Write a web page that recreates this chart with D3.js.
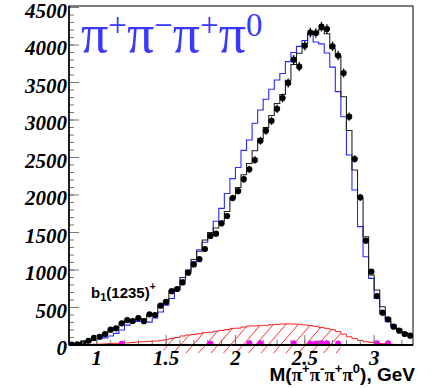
<!DOCTYPE html>
<html>
<head>
<meta charset="utf-8">
<script src="https://cdn.jsdelivr.net/npm/d3@7"></script>
<style>
  html, body { margin: 0; padding: 0; background: #fff; }
  svg { display: block; }
</style>
</head>
<body>
<svg id="chart" width="436" height="388"></svg>
<script>
// Binning of the 4-pion invariant mass spectrum (GeV)
const massMin = 0.80;
const binWidth = 0.04;

// Measured events per bin
const dataCounts = [5, 8, 25, 57, 95, 110, 147, 205, 222, 289, 333, 320, 360, 318, 409, 400,
  525, 575, 718, 747, 834, 965, 1075, 1145, 1280, 1455, 1485, 1622, 1720, 1960, 2053, 2211,
  2342, 2467, 2724, 2858, 2989, 3149, 3293, 3494, 3805, 3711, 3989, 4166, 4160, 4244, 4213,
  3983, 3860, 3627, 3044, 2480, 1969, 1391, 978, 653, 431, 342, 244, 191, 147, 124];

// Full simulation (black histogram)
const simTotal = [5, 10, 30, 55, 90, 115, 150, 195, 230, 280, 325, 340, 345, 345, 400, 420,
  533, 590, 720, 760, 900, 1000, 1140, 1250, 1400, 1500, 1560, 1650, 1780, 1960, 2100, 2270,
  2420, 2590, 2750, 2900, 3060, 3220, 3340, 3530, 3740, 3890, 4020, 4150, 4150, 4205, 4150,
  3950, 3850, 3310, 2860, 2333, 1956, 1444, 933, 733, 511, 356, 267, 209, 164, 133];

// Alternative simulation (blue histogram)
const simAlt = [0, 5, 20, 45, 65, 85, 95, 120, 155, 200, 265, 315, 315, 315, 305, 360,
  440, 530, 620, 733, 867, 978, 1111, 1270, 1370, 1500, 1650, 1822, 2020, 2218, 2367, 2595,
  2733, 2956, 3133, 3276, 3411, 3533, 3620, 3778, 3900, 3982, 4060, 4140, 4040, 4015, 3893,
  3705, 3378, 3044, 2533, 2067, 1578, 1177, 889, 622, 422, 311, 244, 200, 156, 124];

// Background contribution (red hatched)
const background = [3, 5, 6, 8, 10, 12, 15, 20, 22, 25, 28, 33, 40, 44, 48, 52,
  58, 70, 85, 100, 120, 133, 140, 150, 164, 170, 185, 195, 205, 222, 225, 240,
  253, 255, 258, 262, 271, 275, 280, 282, 280, 275, 268, 258, 248, 235, 222,
  205, 180, 145, 110, 85, 60, 44, 35, 25, 18, 12, 9, 7, 5, 4];
// Mass window over which the background band is hatched
const hatchFrom = 1.48, hatchTo = 2.76, hatchLow = -110;

// Side-band subtracted residual (magenta points, empty bins are skipped)
const residual = [0, 0, 0, 0, 0, 0, 0, 0, 0, 18, 0, 0, 0, 0, 0, 0,
  0, 0, 0, 0, 0, 0, 0, 0, 0, 18, 0, 0, 0, 0, 0, 0,
  22, 0, 22, 0, 0, 0, 0, 0, 22, 0, 0, 20, 20, 22, 22,
  0, 20, 0, 0, 0, 0, 0, 0, 22, 0, 22, 0, 0, 0, 0];

// Axis ticks
const xMajorTicks = [1, 1.5, 2, 2.5, 3];
const xTickLabels = ["1", "1.5", "2", "2.5", "3"];
const yMajorTicks = [0, 500, 1000, 1500, 2000, 2500, 3000, 3500, 4000, 4500];
const yTickLabels = ["0", "500", "1000", "1500", "2000", "2500", "3000", "3500", "4000", "4500"];

const svg = d3.select("#chart");
const nBins = dataCounts.length;
const massMax = massMin + nBins * binWidth;

const x = d3.scaleLinear().domain([massMin, massMax]).range([69, 413]);
const y = d3.scaleLinear().domain([0, 4520]).range([345, 6]);

const edge = i => massMin + i * binWidth;
const centre = i => massMin + (i + 0.5) * binWidth;

// Outline of a histogram as a step line
function stepPoints(values) {
  const pts = values.map((v, i) => [edge(i), v]);
  pts.push([edge(values.length), values[values.length - 1]]);
  return pts;
}
const stepLine = d3.line().x(d => x(d[0])).y(d => y(d[1])).curve(d3.curveStepAfter);

const defs = svg.append("defs");
defs.append("clipPath").attr("id", "frameClip")
  .append("rect").attr("x", 69).attr("y", 6).attr("width", 344).attr("height", 339);

// Hatched background band: area between the band floor and the background outline
const hatchBins = d3.range(nBins).filter(i => edge(i) >= hatchFrom - 1e-9 && edge(i + 1) <= hatchTo + 1e-9);
const bandTop = [];
hatchBins.forEach(i => { bandTop.push([edge(i), background[i]]); bandTop.push([edge(i + 1), background[i]]); });
const bandArea = d3.area().x(d => x(d[0])).y0(y(hatchLow)).y1(d => y(d[1]));
defs.append("clipPath").attr("id", "bandClip")
  .append("path").datum(bandTop).attr("d", bandArea);

const hatchStep = 12.5, hatchSlope = 1.15;
const yFloor = y(hatchLow), yCeil = y(d3.max(background)) - 5;
const hatchStarts = d3.range(x(hatchFrom) - 40, x(hatchTo) + 5, hatchStep);
svg.append("g").attr("clip-path", "url(#bandClip)")
  .selectAll("line").data(hatchStarts).join("line")
  .attr("x1", d => d).attr("y1", yFloor)
  .attr("x2", d => d + (yFloor - yCeil) / hatchSlope).attr("y2", yCeil)
  .attr("stroke", "#ff3030").attr("stroke-width", 1);

const plot = svg.append("g").attr("clip-path", "url(#frameClip)");

// Background outline
plot.append("path").datum(stepPoints(background))
  .attr("d", stepLine).attr("fill", "none")
  .attr("stroke", "#ff2020").attr("stroke-width", 1);

// Simulations
plot.append("path").datum(stepPoints(simAlt))
  .attr("d", stepLine).attr("fill", "none")
  .attr("stroke", "#2828ff").attr("stroke-width", 1.1);
plot.append("path").datum(stepPoints(simTotal))
  .attr("d", stepLine).attr("fill", "none")
  .attr("stroke", "#222").attr("stroke-width", 1.1);

// Data with statistical errors
const pts = plot.append("g");
pts.selectAll("line").data(dataCounts).join("line")
  .attr("x1", (d, i) => x(centre(i))).attr("x2", (d, i) => x(centre(i)))
  .attr("y1", d => y(d + Math.sqrt(d))).attr("y2", d => y(Math.max(0, d - Math.sqrt(d))))
  .attr("stroke", "#000").attr("stroke-width", 1.2);
pts.selectAll("circle").data(dataCounts).join("circle")
  .attr("cx", (d, i) => x(centre(i))).attr("cy", d => y(d))
  .attr("r", 3.1).attr("fill", "#000");

// Residual points
plot.append("g").selectAll("circle")
  .data(residual.map((v, i) => ({ v, i })).filter(d => d.v > 0))
  .join("circle")
  .attr("cx", d => x(centre(d.i))).attr("cy", d => y(d.v))
  .attr("r", 3).attr("fill", "#ff00ff");

// Axes
const tickColor = "#777";
const axes = svg.append("g");
const xMinor = d3.range(Math.ceil(massMin * 10), Math.floor(massMax * 10) + 1).map(k => k / 10);
axes.selectAll(".xminor").data(xMinor).join("line")
  .attr("x1", d => x(d)).attr("x2", d => x(d))
  .attr("y1", 345).attr("y2", 340).attr("stroke", tickColor);
axes.selectAll(".xmajor").data(xMajorTicks).join("line")
  .attr("x1", d => x(d)).attr("x2", d => x(d))
  .attr("y1", 345).attr("y2", 335).attr("stroke", tickColor);
const yMinor = d3.range(0, 4501, 100);
axes.selectAll(".yminor").data(yMinor).join("line")
  .attr("x1", 69).attr("x2", 74)
  .attr("y1", d => y(d)).attr("y2", d => y(d)).attr("stroke", tickColor);
axes.selectAll(".ymajor").data(yMajorTicks).join("line")
  .attr("x1", 69).attr("x2", 79)
  .attr("y1", d => y(d)).attr("y2", d => y(d)).attr("stroke", tickColor);

// Frame
svg.append("rect").attr("x", 69).attr("y", 6).attr("width", 344).attr("height", 339)
  .attr("fill", "none").attr("stroke", "#000").attr("stroke-width", 1);
svg.append("line").attr("x1", 69).attr("x2", 413).attr("y1", 345).attr("y2", 345)
  .attr("stroke", "#000").attr("stroke-width", 2);
svg.append("line").attr("x1", 69).attr("x2", 69).attr("y1", 6).attr("y2", 345)
  .attr("stroke", "#000").attr("stroke-width", 1.5);

// Tick labels
const labelFont = "'Liberation Serif', 'Times New Roman', serif";
svg.append("g").selectAll("text").data(xMajorTicks).join("text")
  .attr("x", d => x(d)).attr("y", 365)
  .attr("text-anchor", "middle")
  .attr("font-family", labelFont).attr("font-weight", "bold").attr("font-style", "italic")
  .attr("font-size", 21)
  .text((d, i) => xTickLabels[i]);
svg.append("g").selectAll("text").data(yMajorTicks).join("text")
  .attr("x", 67).attr("y", d => y(d) + 10)
  .attr("text-anchor", "end")
  .attr("font-family", labelFont).attr("font-weight", "bold").attr("font-style", "italic")
  .attr("font-size", 21)
  .text((d, i) => yTickLabels[i]);

// Channel title
const title = svg.append("text").attr("x", 81).attr("y", 52)
  .attr("font-family", labelFont).attr("font-size", 54).attr("fill", "#3838ff");
const titleParts = [["π", 0], ["+", 1], ["π", 0], ["−", 1], ["π", 0], ["+", 1], ["π", 0], ["0", 1]];
titleParts.forEach(([t, sup]) => {
  title.append("tspan")
    .attr("font-size", sup ? 33 : 54)
    .attr("baseline-shift", sup ? "16px" : "0")
    .text(t);
});

// Resonance label
const sans = "'Liberation Sans', Arial, sans-serif";
const b1 = svg.append("text").attr("x", 91).attr("y", 298)
  .attr("font-family", sans).attr("font-weight", "bold").attr("font-size", 15).attr("fill", "#000");
b1.append("tspan").text("b");
b1.append("tspan").attr("font-size", 11).attr("baseline-shift", "-30%").text("1");
b1.append("tspan").text("(1235)");
b1.append("tspan").attr("font-size", 10).attr("baseline-shift", "80%").text("+");

// Axis title
const xt = svg.append("text").attr("x", 415).attr("y", 381).attr("text-anchor", "end")
  .attr("font-family", sans).attr("font-weight", "bold").attr("font-size", 19).attr("fill", "#000");
const xtParts = [["M(", 0], ["π", 2], ["+", 1], ["π", 2], ["-", 1], ["π", 2], ["+", 1], ["π", 2], ["0", 1], ["), GeV", 0]];
xtParts.forEach(([t, k]) => {
  const s = xt.append("tspan").text(t);
  if (k === 1) s.attr("font-size", 13).attr("baseline-shift", "65%");
  if (k === 2) s.attr("font-family", labelFont).attr("font-weight", "bold");
});
</script>
</body>
</html>
